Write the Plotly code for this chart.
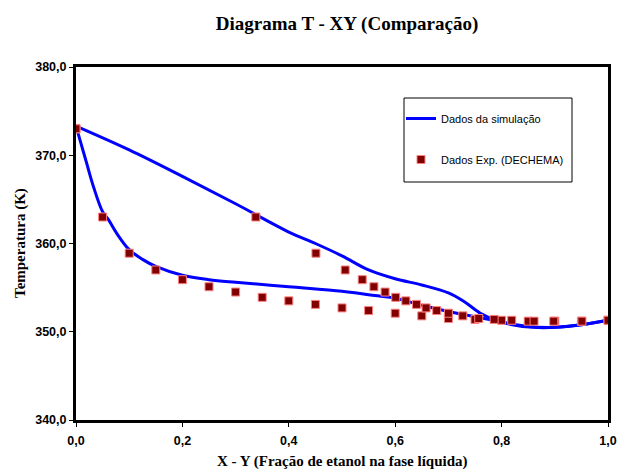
import plotly.graph_objects as go

# Experimental data (DECHEMA): liquid x, vapour y, temperature T
exp_x = [0.0, 0.05, 0.10, 0.15, 0.20, 0.25, 0.30, 0.35, 0.40, 0.45, 0.50,
         0.55, 0.60, 0.65, 0.70, 0.75, 0.80, 0.85, 0.90, 0.95, 1.0]
exp_y = [0.0, 0.338, 0.451, 0.506, 0.538, 0.560, 0.581, 0.601, 0.620, 0.640, 0.658,
         0.678, 0.700, 0.727, 0.757, 0.786, 0.819, 0.861, 0.898, 0.951, 1.0]
exp_T = [373.0, 363.0, 358.9, 357.0, 355.9, 355.1, 354.5, 353.9, 353.5, 353.1, 352.7,
         352.4, 352.1, 351.8, 351.5, 351.4, 351.3, 351.2, 351.2, 351.2, 351.3]

# Simulation: bubble curve (liquid) and dew curve (vapour)
bub_x = [0.0, 0.01, 0.02, 0.033, 0.05, 0.061, 0.076, 0.10, 0.125, 0.15, 0.20, 0.25,
         0.30, 0.40, 0.50, 0.55, 0.60, 0.65, 0.70, 0.75, 0.80, 0.85, 0.90, 0.95, 1.0]
bub_T = [373.3, 371.2, 369.1, 366.4, 363.6, 362.7, 361.2, 359.3, 358.2, 357.4, 356.4, 355.9,
         355.6, 355.1, 354.6, 354.2, 353.8, 353.0, 352.3, 351.7, 351.1, 350.6, 350.5, 350.8, 351.3]
dew_x = [0.0, 0.10, 0.20, 0.30, 0.40, 0.45, 0.50, 0.55, 0.60, 0.65, 0.70, 0.73,
         0.76, 0.79, 0.82, 0.86, 0.90, 0.95, 1.0]
dew_T = [373.3, 370.6, 367.6, 364.5, 361.3, 360.0, 358.6, 357.0, 356.0, 355.3, 354.4, 353.4,
         352.1, 351.3, 350.8, 350.5, 350.5, 350.8, 351.3]

x_ticks = [0.0, 0.2, 0.4, 0.6, 0.8, 1.0]
y_ticks = [340.0, 350.0, 360.0, 370.0, 380.0]

BLUE = "#0000FF"
fig = go.Figure()
fig.add_trace(go.Scatter(x=bub_x, y=bub_T, mode="lines", line=dict(color=BLUE, width=3, shape="spline"),
                         name="Dados da simulação", legendgroup="sim"))
fig.add_trace(go.Scatter(x=dew_x, y=dew_T, mode="lines", line=dict(color=BLUE, width=3, shape="spline"),
                         name="Dados da simulação", legendgroup="sim", showlegend=False))
fig.add_trace(go.Scatter(x=exp_x, y=exp_T, mode="markers",
                         marker=dict(symbol="square", size=8, color="#800000",
                                     line=dict(color="#FF8080", width=1)),
                         name="Dados Exp. (DECHEMA)", legendgroup="exp"))
fig.add_trace(go.Scatter(x=exp_y, y=exp_T, mode="markers",
                         marker=dict(symbol="square", size=8, color="#800000",
                                     line=dict(color="#FF8080", width=1)),
                         name="Dados Exp. (DECHEMA)", legendgroup="exp", showlegend=False))

axis_common = dict(showline=True, linecolor="black", linewidth=3, mirror=True,
                   ticks="outside", ticklen=4, tickcolor="black", tickwidth=1,
                   showgrid=False, zeroline=False, automargin=False,
                   tickfont=dict(family="Liberation Sans", size=12.5, color="black", weight="bold"))

fig.update_xaxes(range=[0, 1], tickvals=x_ticks, tickformat=".1f", ticklabelstandoff=3, **axis_common)
fig.update_yaxes(range=[340, 380], tickvals=y_ticks, tickformat=".1f", **axis_common)

title_font = dict(family="Liberation Serif", size=15, color="black", weight="bold")
fig.add_annotation(text="X - Y (Fração de etanol na fase líquida)", xref="paper", yref="paper",
                   x=(342 - 76) / 532, y=(420 - 461) / 353, xanchor="center", yanchor="middle",
                   showarrow=False, font=title_font)
fig.add_annotation(text="Temperatura (K)", xref="paper", yref="paper",
                   x=(20 - 76) / 532, y=(420 - 243) / 353, xanchor="center", yanchor="middle",
                   textangle=-90, showarrow=False, font=title_font)

fig.add_shape(type="rect", xref="paper", yref="paper",
              x0=(404 - 76) / 532, x1=(572 - 76) / 532,
              y0=(420 - 182) / 353, y1=(420 - 98) / 353,
              line=dict(color="black", width=1), fillcolor="white", layer="below")

fig.update_layout(
    width=630, height=470,
    margin=dict(l=76, r=22, t=67, b=50),
    paper_bgcolor="white", plot_bgcolor="white",
    separators=", ",
    title=dict(text="Diagrama T - XY (Comparação)", x=347 / 630, xanchor="center",
               y=1 - 23 / 470, yanchor="middle", yref="container",
               font=dict(family="Liberation Serif", size=19, color="black", weight="bold")),
    legend=dict(x=(401 - 76) / 532, y=(420 - 104) / 353, xanchor="left", yanchor="top",
                bgcolor="rgba(0,0,0,0)", borderwidth=0,
                font=dict(family="Liberation Sans", size=11, color="black"),
                tracegroupgap=22, traceorder="grouped", itemwidth=30),
    showlegend=True,
)

fig.write_html("out.html", config={"displayModeBar": False},
               post_script="document.body.style.margin='0';document.body.style.overflow='hidden';")
